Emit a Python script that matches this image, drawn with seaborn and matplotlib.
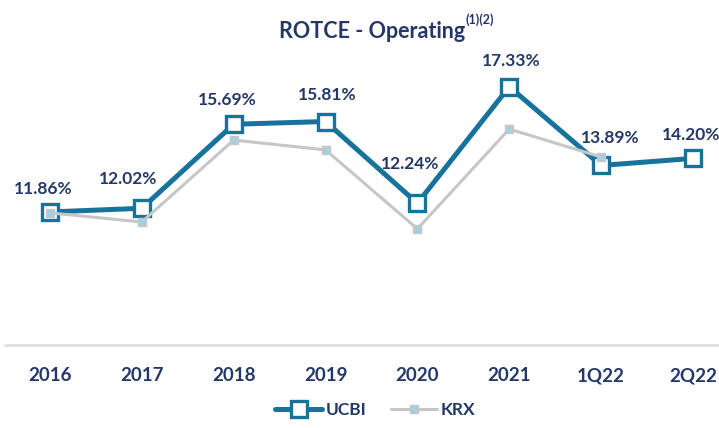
import pandas as pd
import matplotlib.pyplot as plt
import seaborn as sns

# chart values
periods = ['2016', '2017', '2018', '2019', '2020', '2021', '1Q22', '2Q22']
ucbi = [11.86, 12.02, 15.69, 15.81, 12.24, 17.33, 13.89, 14.20]
krx = [11.82, 11.42, 15.00, 14.57, 11.12, 15.48, 14.26]

# label offsets in pixels (dx, dy), placed by hand in the source
label_off = [(-7, 23), (-14, 29), (-6, 24), (2, 27), (-7, 39), (2, 26), (9, 27), (-2, 23)]

sns.set_style('white')
plt.rcParams['font.family'] = ['Lato', 'DejaVu Sans']

navy = '#243868'
blue = '#17739c'
gray = '#c6c6c6'

df_u = pd.DataFrame({'pos': range(len(ucbi)), 'val': ucbi})
df_k = pd.DataFrame({'pos': range(len(krx)), 'val': krx})

fig = plt.figure(figsize=(7.19, 4.28), dpi=100)
ax = fig.add_axes([0, 0.194, 1, 0.666])

sns.lineplot(data=df_u, x='pos', y='val', ax=ax, color=blue, linewidth=3.6,
             marker='s', markersize=11, markerfacecolor='white',
             markeredgecolor=blue, markeredgewidth=2.4, label='UCBI')
sns.lineplot(data=df_k, x='pos', y='val', ax=ax, color=gray, linewidth=2.2,
             marker='s', markersize=5.5, markerfacecolor='#a9cfdf',
             markeredgecolor=gray, markeredgewidth=1, label='KRX')

# data labels on UCBI
for i, v in enumerate(ucbi):
    dx, dy = label_off[i]
    ax.annotate(f'{v:.2f}%', (i, v), textcoords='offset pixels', xytext=(dx, dy),
                ha='center', va='center', fontsize=12.5, fontweight='bold', color=navy)

ax.set_xlim(-0.544, 7.283)
ax.set_ylim(6.05, 18.5)
ax.axhline(6.05, xmin=0.007, xmax=1, color='#dddddd', linewidth=2, clip_on=False)
for s in ax.spines.values():
    s.set_visible(False)
ax.set_yticks([])
ax.set_xticks(range(len(periods)))
ax.set_xticklabels(periods, fontsize=13.5, fontweight='bold', color=navy)
ax.tick_params(axis='x', length=0, pad=16)
ax.set_xlabel('')
ax.set_ylabel('')

fig.text(372 / 719, 1 - 38 / 428, 'ROTCE - Operating', ha='center', va='baseline',
         fontsize=15.5, fontweight='bold', color=navy)
fig.text(465 / 719, 1 - 24 / 428, '(1)(2)', ha='left', va='baseline',
         fontsize=9, fontweight='bold', color=navy)

ax.get_legend().remove()
h, l = ax.get_legend_handles_labels()
leg = fig.legend(h, l, loc='center', bbox_to_anchor=(0.522, 0.042), ncol=2, frameon=False,
                 prop={'size': 12.5, 'weight': 'bold'}, handlelength=2.7, columnspacing=1.4,
                 handletextpad=0.2)
for t in leg.get_texts():
    t.set_color(navy)

fig.savefig('out.png', dpi=100)
